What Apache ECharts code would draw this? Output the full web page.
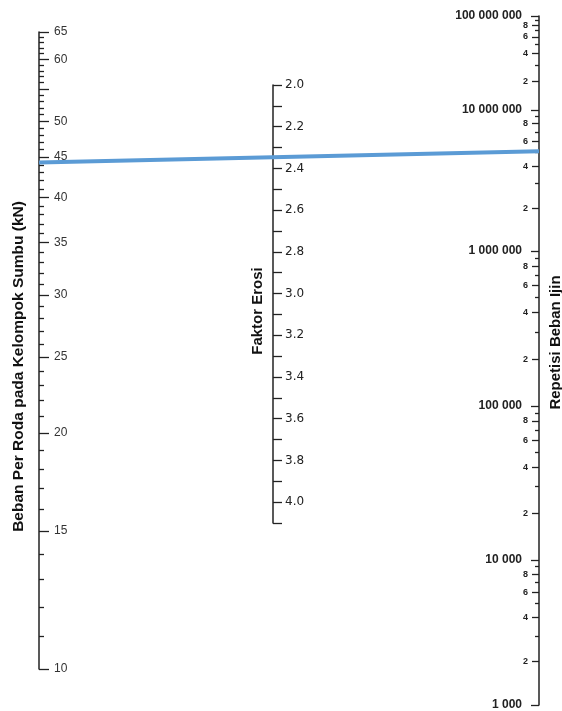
<!DOCTYPE html>
<html>
<head>
<meta charset="utf-8">
<script src="https://cdn.jsdelivr.net/npm/echarts@6/dist/echarts.min.js"></script>
<style>
  html, body { margin: 0; padding: 0; background: #fff; }
  #chart { width: 562px; height: 711px; }
</style>
</head>
<body>
<div id="chart"></div>
<script>
// left scale: beban per roda (kN), log
const loadMajorTicks = [10, 15, 20, 25, 30, 35, 40, 45, 50, 55, 60, 65]
const loadLabels = [10, 15, 20, 25, 30, 35, 40, 45, 50, 60, 65]
const loadMinorTicks = [11, 12, 13, 14, 16, 17, 18, 19, 21, 22, 23, 24, 26, 27, 28, 29,
  31, 32, 33, 34, 36, 37, 38, 39, 41, 42, 43, 44, 46, 47, 48, 49,
  51, 52, 53, 54, 56, 57, 58, 59, 61, 62, 63, 64]

// middle scale: faktor erosi, linear
const erosionTicks = [2.0, 2.1, 2.2, 2.3, 2.4, 2.5, 2.6, 2.7, 2.8, 2.9, 3.0,
  3.1, 3.2, 3.3, 3.4, 3.5, 3.6, 3.7, 3.8, 3.9, 4.0, 4.1]
const erosionLabels = [2.0, 2.2, 2.4, 2.6, 2.8, 3.0, 3.2, 3.4, 3.6, 3.8, 4.0]

// right scale: repetisi beban ijin, log per decade
const repDecades = [1e3, 1e4, 1e5, 1e6, 1e7, 1e8]
const repDecadeLabels = ['1 000', '10 000', '100 000', '1 000 000', '10 000 000', '100 000 000']
const repSubLabeled = [2, 4, 6, 8]
const repSubPlain = [3, 5, 7, 9]
// printed length of each decade (the top one is squeezed on the original)
const repDecadeSpan = [145, 154, 155, 141, 94]

// the reading drawn in blue
const readLoad = 44.3
const readRep = 5.1e6

const ink = '#222'

const repCum = [0]
repDecadeSpan.forEach((s, i) => repCum.push(repCum[i] + s))
const repToAxis = v => {
  const lg = Math.log10(v) - Math.log10(repDecades[0])
  const i = Math.min(Math.floor(lg + 1e-9), repDecadeSpan.length - 1)
  return repCum[i] + repDecadeSpan[i] * (lg - i)
}

const decadePairs = repDecades.map((v, i) => [repToAxis(v), repDecadeLabels[i]])
const subLabeledPairs = []
const subPlain = []
repDecades.slice(0, -1).forEach(dec => {
  repSubLabeled.forEach(d => subLabeledPairs.push([repToAxis(d * dec), String(d)]))
  repSubPlain.forEach(d => subPlain.push(repToAxis(d * dec)))
})
const lookup = pairs => val => {
  const p = pairs.find(q => Math.abs(q[0] - val) < 1e-6)
  return p ? p[1] : ''
}

const titleStyle = { fontFamily: 'Liberation Sans', fontWeight: 'bold', fontSize: 15, color: '#111' }

const baseY = {
  type: 'value',
  splitLine: { show: false },
  axisLine: { show: false, onZero: false, lineStyle: { color: ink, width: 1.5 } },
  axisTick: { show: true, inside: true, lineStyle: { color: ink, width: 1.3 } },
  axisLabel: { show: false, inside: true, showMinLabel: true, showMaxLabel: true, hideOverlap: false },
  nameMoveOverlap: false
}
const y = extra => echarts.util.merge(echarts.util.clone(baseY), extra, true)

const chart = echarts.init(document.getElementById('chart'), null, { renderer: 'canvas' })

const option = {
  animation: false,
  backgroundColor: '#fff',
  grid: [
    { left: 39, right: 23, top: 32, height: 637, containLabel: false, outerBoundsMode: 'none' },
    { left: 273, width: 100, top: 85, height: 438, containLabel: false, outerBoundsMode: 'none' },
    { left: 400, right: 23, top: 16, height: 689, containLabel: false, outerBoundsMode: 'none' }
  ],
  xAxis: [0, 1, 2].map(g => ({ type: 'value', gridIndex: g, min: 0, max: 1, show: false })),
  yAxis: [
    // left, labeled ticks
    y({
      gridIndex: 0, position: 'left',
      min: Math.log10(loadMajorTicks[0]), max: Math.log10(loadMajorTicks[loadMajorTicks.length - 1]),
      axisLine: { show: true },
      axisTick: { length: 10, customValues: loadMajorTicks.map(v => Math.log10(v)) },
      axisLabel: {
        show: true, margin: 15, customValues: loadLabels.map(v => Math.log10(v)),
        formatter: v => String(Math.round(Math.pow(10, v))),
        fontFamily: 'Liberation Sans', fontSize: 12, color: '#333'
      },
      name: 'Beban Per Roda pada Kelompok Sumbu (kN)',
      nameLocation: 'middle', nameRotate: 90, nameGap: 12,
      nameTextStyle: Object.assign({ padding: [0, 32, 0, 0] }, titleStyle, { fontSize: 15.5 })
    }),
    // left, minor ticks
    y({
      gridIndex: 0, position: 'left',
      min: Math.log10(loadMajorTicks[0]), max: Math.log10(loadMajorTicks[loadMajorTicks.length - 1]),
      axisTick: { length: 5, customValues: loadMinorTicks.map(v => Math.log10(v)) }
    }),
    // middle
    y({
      gridIndex: 1, position: 'left', inverse: true,
      min: erosionTicks[0], max: erosionTicks[erosionTicks.length - 1],
      axisLine: { show: true },
      axisTick: { length: 9, customValues: erosionTicks },
      axisLabel: {
        show: true, margin: 12, customValues: erosionLabels,
        formatter: v => v.toFixed(1),
        fontFamily: 'DejaVu Sans', fontSize: 12, color: ink
      },
      name: 'Faktor Erosi',
      nameLocation: 'middle', nameRotate: 90, nameGap: 8,
      nameTextStyle: Object.assign({ padding: [0, 14, 0, 0] }, titleStyle)
    }),
    // right, decades
    y({
      gridIndex: 2, position: 'right',
      min: 0, max: repCum[repCum.length - 1],
      axisLine: { show: true },
      axisTick: { length: 8, customValues: decadePairs.map(p => p[0]) },
      axisLabel: {
        show: true, margin: 17, customValues: decadePairs.map(p => p[0]),
        formatter: lookup(decadePairs),
        fontFamily: 'Liberation Sans', fontWeight: 'bold', fontSize: 12, color: ink
      },
      name: 'Repetisi Beban Ijin',
      nameLocation: 'middle', nameRotate: 90, nameGap: 9,
      nameTextStyle: Object.assign({ padding: [0, 0, 0, 36] }, titleStyle)
    }),
    // right, labeled sub ticks
    y({
      gridIndex: 2, position: 'right',
      min: 0, max: repCum[repCum.length - 1],
      axisTick: { length: 7, customValues: subLabeledPairs.map(p => p[0]) },
      axisLabel: {
        show: true, margin: 11, customValues: subLabeledPairs.map(p => p[0]),
        formatter: lookup(subLabeledPairs),
        fontFamily: 'Liberation Sans', fontWeight: 'bold', fontSize: 9, color: ink
      }
    }),
    // right, plain sub ticks
    y({
      gridIndex: 2, position: 'right',
      min: 0, max: repCum[repCum.length - 1],
      axisTick: { length: 4, customValues: subPlain }
    })
  ],
  series: [{
    id: 'reading',
    type: 'line',
    xAxisIndex: 0,
    yAxisIndex: 0,
    symbol: 'none',
    clip: false,
    z: 5,
    lineStyle: { color: '#5b9bd5', width: 4 },
    data: []
  }]
}

chart.setOption(option)

// right end of the line: read the repetition value off the right scale, in left-scale units
const py = chart.convertToPixel({ yAxisIndex: 3 }, repToAxis(readRep))
const yRight = chart.convertFromPixel({ yAxisIndex: 0 }, py)
chart.setOption({
  series: [{ id: 'reading', data: [[0, Math.log10(readLoad)], [1, yRight]] }]
})
</script>
</body>
</html>
